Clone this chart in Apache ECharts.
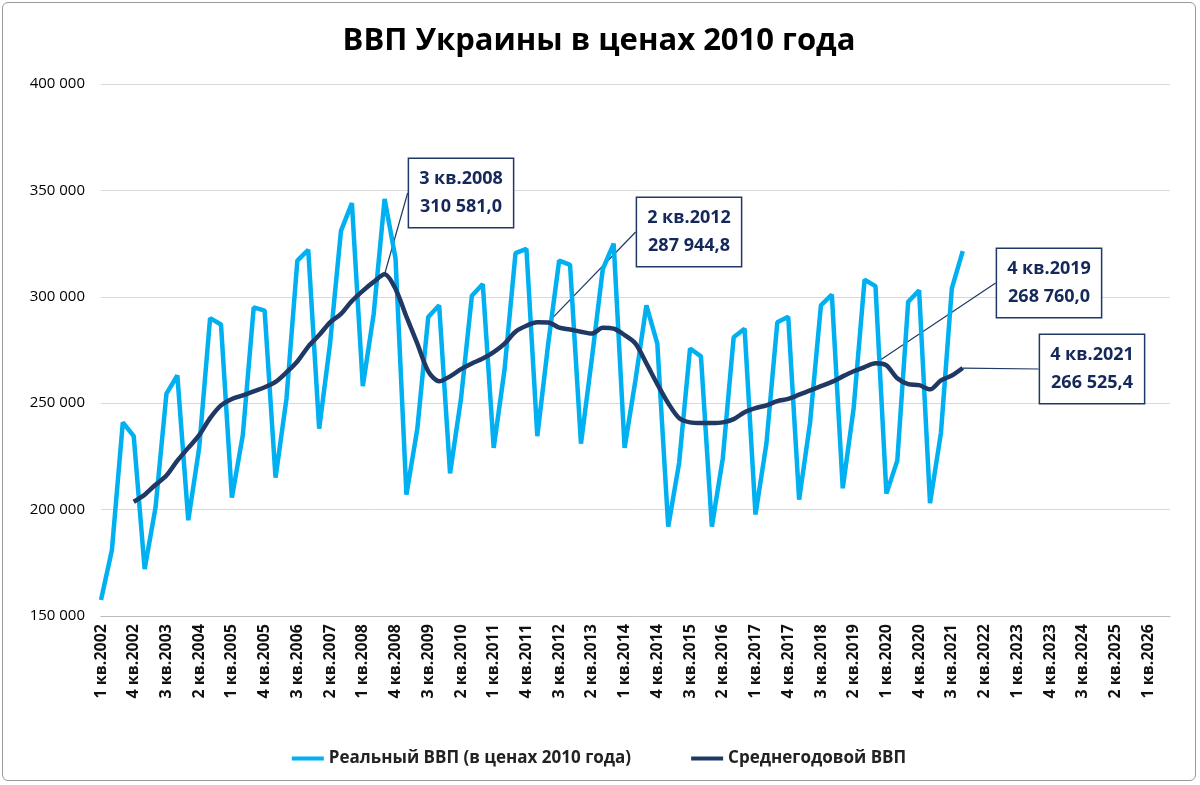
<!DOCTYPE html>
<html><head><meta charset="utf-8">
<script src="https://cdn.jsdelivr.net/npm/echarts@6/dist/echarts.min.js"></script>
<style>html,body{margin:0;padding:0;background:#fff}
#c{position:absolute;left:2px;top:2px;width:1194px;height:779px;border:1.5px solid #9a9a9a;border-radius:6px;box-sizing:border-box}</style>
</head><body><div id="c"></div>
<script>
const years = [2002,2003,2004,2005,2006,2007,2008,2009,2010,2011,2012,2013,2014,2015,2016,2017,2018,2019,2020,2021,2022,2023,2024,2025,2026];
const quarterNames = ['1 кв.','2 кв.','3 кв.','4 кв.'];
const categories = [];
years.forEach(y => quarterNames.forEach(q => categories.push(q + y)));
categories.length = 99;

const realGDP = [
 157500,181000,241000,234500, 172000,201000,254500,263000, 195000,229000,290000,287000,
 205600,235000,295000,293500, 215000,252000,317000,322000, 238000,278000,331000,344000,
 258000,292000,346000,318000, 207000,238000,290500,296000, 217000,252000,300500,306000,
 229000,266000,320500,322500, 234500,278000,317000,315000, 231000,271000,313000,325000,
 229000,261000,296000,278000, 192000,222000,275700,272000, 192000,224000,281000,285000,
 197700,231000,288000,290600, 204700,240700,296000,301000, 210000,247700,308000,305000,
 207500,223000,297700,303000, 203000,236000,304000,321500
];
const avgGDP = [
 null,null,null,203700, 207000,211700,216000,223000, 229000,235000,243000,249000,
 252000,253700,255600,257500, 260000,264500,269600,276600, 282000,288000,292000,298000,
 302800,307000,310581,303700, 290700,278000,265000,260300, 262600,266000,268700,271000,
 274000,278000,283600,286400, 288000,287944.8,285500,284600, 283600,282700,285500,285000,
 282000,278000,268700,259000, 250000,243000,241000,240700, 240700,241000,242500,245800,
 247700,249000,251000,252000, 254000,256000,258000,260000, 262600,265000,267000,268760,
 267800,261700,259000,258500, 256500,260700,263000,266525.4
];
const calloutIdx = [26, 41, 71, 79];
const calloutText = [['3 кв.2008','310 581,0'],['2 кв.2012','287 944,8'],['4 кв.2019','268 760,0'],['4 кв.2021','266 525,4']];
const calloutPos = [[458,190],[686,229],[1046,280],[1089,366]];

const fmt = v => String(v).replace(/\B(?=(\d{3})+(?!\d))/g,' ');
const chart = echarts.init(document.getElementById('c'));
chart.setOption({
  animation:false,
  title:{text:'ВВП Украины в ценах 2010 года',left:'center',top:18,
    textStyle:{fontFamily:'Open Sans',fontWeight:'bold',fontSize:31,color:'#000'}},
  grid:{left:98,right:25,top:81,bottom:164},
  legend:{bottom:8,left:'center',itemWidth:32,itemGap:60,icon:'rect',itemHeight:4,
    textStyle:{fontFamily:'Open Sans',fontWeight:'bold',fontSize:17,color:'#222'},
    data:['Реальный ВВП (в ценах 2010 года)','Среднегодовой ВВП']},
  xAxis:{type:'category',data:categories,boundaryGap:false,
    axisLine:{lineStyle:{color:'#bbb'}},axisTick:{show:false},
    axisLabel:{rotate:90,interval:2,fontFamily:'Open Sans',fontWeight:'bold',fontSize:16,color:'#111',margin:8}},
  yAxis:{type:'value',min:150000,max:400000,interval:50000,
    axisLabel:{formatter:fmt,fontFamily:'Open Sans',fontSize:15,color:'#000',margin:16},
    splitLine:{lineStyle:{color:'#d9d9d9'}}},
  series:[
    {name:'Реальный ВВП (в ценах 2010 года)',type:'line',data:realGDP,symbol:'none',
      lineStyle:{width:4.5,color:'#00b0f0'},itemStyle:{color:'#00b0f0'}},
    {name:'Среднегодовой ВВП',type:'line',data:avgGDP,symbol:'none',smooth:0.3,
      lineStyle:{width:4.5,color:'#203864'},itemStyle:{color:'#203864'}},
    {type:'scatter',symbolSize:0,silent:true,itemStyle:{opacity:1,color:'#1f3864'},
      data:calloutIdx.map((i,k)=>({value:[i,avgGDP[i]]})),
      label:{show:true,formatter:p=>calloutText[p.dataIndex].join('\n'),opacity:1,
        backgroundColor:'#fff',borderColor:'#1f3864',borderWidth:1.5,padding:[6,10],
        fontFamily:'Open Sans',fontWeight:'bold',fontSize:18,lineHeight:28,color:'#14285a',align:'center'},
      labelLine:{show:true,lineStyle:{color:'#1f3864',width:1.2,opacity:1}},
      labelLayout:p=>({x:calloutPos[p.dataIndex][0],y:calloutPos[p.dataIndex][1],align:'center',verticalAlign:'middle'})}
  ]
});
</script></body></html>
